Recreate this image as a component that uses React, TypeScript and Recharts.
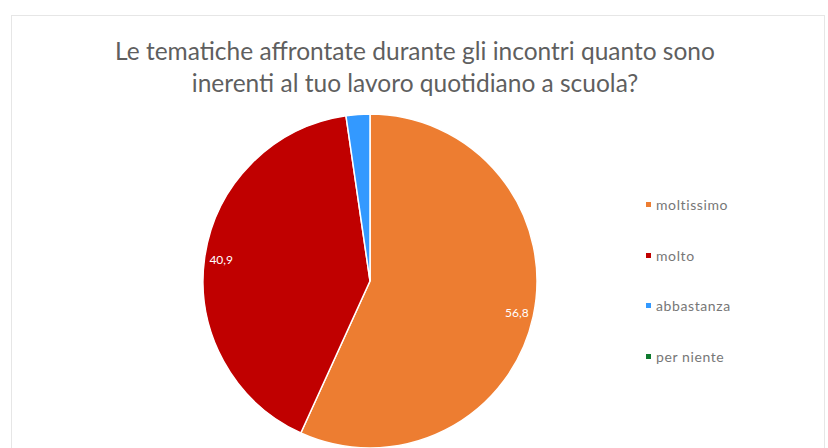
import { Cell, Legend, Pie, PieChart } from 'recharts';

const categories = ['moltissimo', 'molto', 'abbastanza', 'per niente'];
const values = [56.8, 40.9, 2.3, 0];
const labelTexts = ['56,8', '40,9', '', ''];
const colors = ['#ED7D31', '#C00000', '#3399FF', '#0E7A2E'];

const titleLines = [
  'Le tematiche affrontate durante gli incontri quanto sono',
  'inerenti al tuo lavoro quotidiano a scuola?',
];

const data = categories.map((name, i) => ({ name, value: values[i] }));

const RAD = Math.PI / 180;
const FONT = "Lato, 'Open Sans', sans-serif";

function renderLabel(props: any) {
  const { cx, cy, midAngle, outerRadius, index } = props;
  const text = labelTexts[index];
  if (!text) return null;
  const r = outerRadius * 0.9;
  const x = cx + r * Math.cos(-midAngle * RAD);
  const y = cy + r * Math.sin(-midAngle * RAD);
  return (
    <text
      x={x}
      y={y}
      fill="#ffffff"
      fontSize={12}
      fontFamily={FONT}
      textAnchor="middle"
      dominantBaseline="central"
    >
      {text}
    </text>
  );
}

function renderLegend(props: any) {
  const payload = [...(props.payload || [])].sort(
    (a: any, b: any) => categories.indexOf(a.value) - categories.indexOf(b.value),
  );
  return (
    <div style={{ display: 'flex', flexDirection: 'column', gap: 33.5 }}>
      {payload.map((entry: any) => (
        <div
          key={entry.value}
          style={{ display: 'flex', alignItems: 'center', gap: 5, height: 17 }}
        >
          <i style={{ width: 5, height: 5, background: entry.color, display: 'inline-block' }} />
          <span style={{ color: '#777777', fontSize: 14, letterSpacing: 0.6, fontFamily: FONT }}>
            {entry.value}
          </span>
        </div>
      ))}
    </div>
  );
}

export default function App() {
  return (
    <div
      style={{
        position: 'absolute',
        left: 0,
        top: 0,
        width: 828,
        height: 448,
        background: '#ffffff',
        overflow: 'hidden',
      }}
    >
      <div
        style={{
          position: 'absolute',
          left: 11,
          top: 15,
          width: 812,
          height: 460,
          border: '1.5px solid #e6e6e6',
        }}
      />
      <div
        style={{
          position: 'absolute',
          left: 0,
          top: 35,
          width: 828,
          textAlign: 'center',
          color: '#5f5f5f',
          fontFamily: FONT,
          fontSize: 24.5,
          lineHeight: '32px',
        }}
      >
        {titleLines.map((line) => (
          <div key={line} style={{ paddingLeft: 2 }}>{line}</div>
        ))}
      </div>
      <PieChart width={828} height={448} style={{ position: 'absolute', left: 0, top: 0 }}>
        <Pie
          data={data}
          dataKey="value"
          nameKey="name"
          cx={365}
          cy={276}
          outerRadius={167}
          startAngle={90}
          endAngle={-270}
          stroke="#ffffff"
          strokeWidth={1.5}
          label={renderLabel}
          labelLine={false}
          isAnimationActive={false}
        >
          {data.map((d, i) => (
            <Cell key={d.name} fill={colors[i]} />
          ))}
        </Pie>
        <Legend
          layout="vertical"
          align="right"
          verticalAlign="top"
          content={renderLegend}
          wrapperStyle={{ left: 646, top: 196, width: 160 }}
        />
      </PieChart>
    </div>
  );
}
